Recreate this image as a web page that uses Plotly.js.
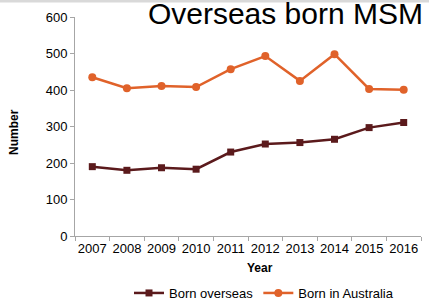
<!DOCTYPE html>
<html>
<head>
<meta charset="utf-8">
<script src="https://cdn.plot.ly/plotly-3.0.1.min.js"></script>
<style>html,body{margin:0;padding:0;background:#fff;}#chart{width:429px;height:303px;}</style>
</head>
<body>
<div id="chart"></div>
<script>
const years = ['2007','2008','2009','2010','2011','2012','2013','2014','2015','2016'];
const bornOverseas = [190, 180, 187, 183, 230, 252, 256, 265, 297, 311];
const bornAustralia = [435, 405, 411, 408, 457, 493, 425, 498, 403, 401];
const yTicks = [0, 100, 200, 300, 400, 500, 600];

const W = 429, H = 303, L = 75, R = 8, T = 17, B = 67;
const pw = W - L - R, ph = H - T - B;
const px = x => (x - L) / pw;
const py = y => (H - B - y) / ph;

const font = {family: 'Liberation Sans, Arial, sans-serif', size: 13, color: '#000'};

const traces = [
  {x: years, y: bornOverseas, name: 'Born overseas', type: 'scatter', mode: 'lines+markers',
   line: {color: '#5B1A1C', width: 2.5}, marker: {symbol: 'square', size: 7, color: '#5B1A1C'}},
  {x: years, y: bornAustralia, name: 'Born in Australia', type: 'scatter', mode: 'lines+markers',
   line: {color: '#E0622A', width: 2.5}, marker: {symbol: 'circle', size: 8, color: '#E0622A'}}
];

const layout = {
  width: W, height: H,
  margin: {l: L, r: R, t: T, b: B, pad: 0, autoexpand: false},
  paper_bgcolor: '#fff', plot_bgcolor: '#fff',
  font: font,
  showlegend: true,
  title: {text: 'Overseas born MSM', font: {family: 'Liberation Sans, Arial, sans-serif', size: 30, color: '#000'},
          xref: 'container', x: 423 / W, xanchor: 'right', yref: 'container', y: 1 - 3 / H, yanchor: 'top'},
  xaxis: {type: 'category', range: [-0.5, 9.5], showgrid: false, zeroline: false,
          showline: true, linecolor: '#A6A6A6', linewidth: 1, automargin: false, tickangle: 0,
          ticks: 'outside', tickson: 'boundaries', ticklen: 4, tickcolor: '#A6A6A6',
          tickfont: font, fixedrange: true},
  yaxis: {range: [0, 600], tickvals: yTicks, ticktext: yTicks.map(String), showgrid: false, zeroline: false,
          showline: true, linecolor: '#A6A6A6', linewidth: 1, automargin: false,
          ticks: 'outside', ticklen: 4, tickcolor: '#A6A6A6', tickfont: font, fixedrange: true},
  legend: {orientation: 'h', xref: 'container', x: 264 / W, xanchor: 'center',
           yref: 'container', y: 1 - 293 / H, yanchor: 'middle',
           font: font, bgcolor: 'rgba(0,0,0,0)', itemwidth: 30, traceorder: 'normal'},
  annotations: [
    {text: '<b>Year</b>', xref: 'paper', yref: 'paper', x: px(260), y: py(268), xanchor: 'center', yanchor: 'middle',
     showarrow: false, font: {family: 'Liberation Sans, Arial, sans-serif', size: 12, color: '#000'}},
    {text: '<b>Number</b>', xref: 'paper', yref: 'paper', x: px(14), y: py(132), xanchor: 'center', yanchor: 'middle',
     textangle: -90, showarrow: false, font: {family: 'Liberation Sans, Arial, sans-serif', size: 12, color: '#000'}}
  ],
  shapes: [
    {type: 'rect', xref: 'paper', yref: 'paper', x0: px(0), x1: px(W), y0: py(2.5), y1: py(0),
     fillcolor: '#D9D9D9', line: {width: 0}, layer: 'below'}
  ]
};

Plotly.newPlot('chart', traces, layout, {displayModeBar: false, staticPlot: true});
</script>
</body>
</html>
